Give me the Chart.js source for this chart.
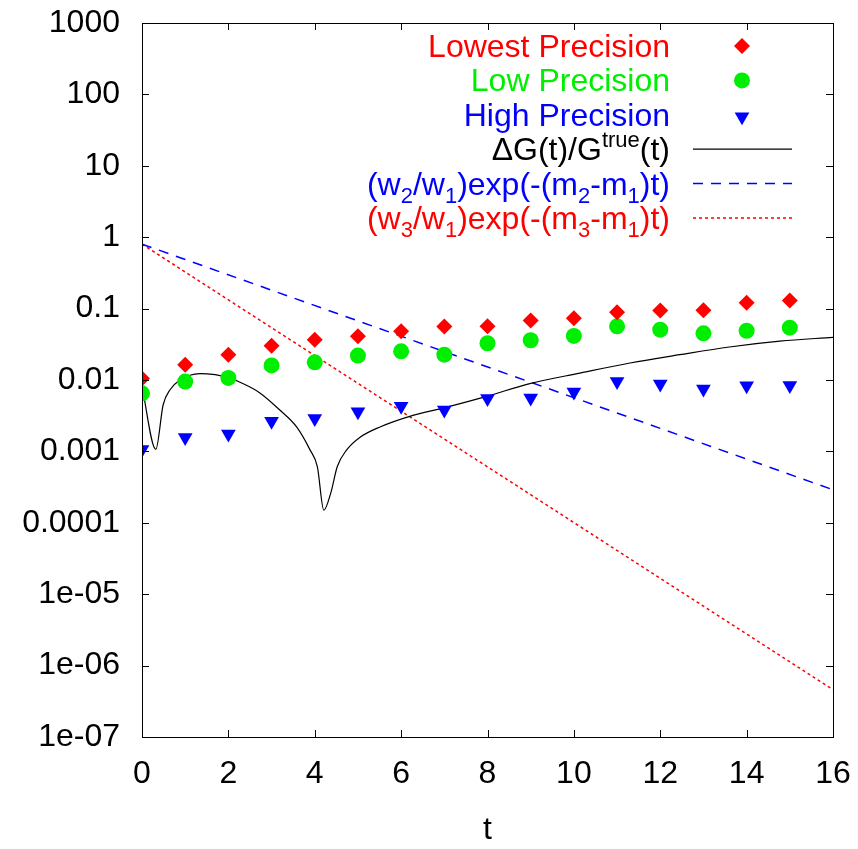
<!DOCTYPE html>
<html>
<head>
<meta charset="utf-8">
<script src="https://cdn.jsdelivr.net/npm/chart.js@4.4.1/dist/chart.umd.min.js"></script>
<style>
  html, body { margin: 0; padding: 0; background: #fff; }
</style>
</head>
<body>
<canvas id="chart" width="858" height="849"></canvas>
<script>
// data
const tPoints = [0, 1, 2, 3, 4, 5, 6, 7, 8, 9, 10, 11, 12, 13, 14, 15];
const lowestPrecision = [0.0105, 0.0164, 0.0226, 0.0303, 0.0367, 0.041, 0.048, 0.056, 0.0565, 0.068, 0.073, 0.089, 0.094, 0.095, 0.121, 0.13];
const lowPrecision = [0.0065, 0.0095, 0.0107, 0.016, 0.0177, 0.022, 0.0252, 0.0226, 0.0327, 0.036, 0.0414, 0.0565, 0.0507, 0.045, 0.049, 0.054];
const highPrecision = [0.00106, 0.00156, 0.00175, 0.00265, 0.0029, 0.0036, 0.0043, 0.0038, 0.0055, 0.0056, 0.0068, 0.0095, 0.0088, 0.0075, 0.0083, 0.0084];

const ratioT = [0, 0.32, 0.49, 0.65, 0.88, 1.34, 2.04, 2.27, 2.73, 3.19, 3.58, 3.89, 4.06, 4.21, 4.37, 4.52, 4.74, 5.05, 5.51, 6.2, 7.01, 7.98, 8.98, 10.14, 11.3, 12.45, 13.6, 14.77, 16];
const ratioVal = [0.0081, 0.00107, 0.0045, 0.0073, 0.010, 0.0123, 0.0107, 0.0093, 0.0066, 0.0038, 0.0022, 0.00105, 0.00061, 0.00015, 0.00026, 0.00061, 0.00105, 0.00158, 0.0022, 0.0031, 0.0041, 0.0059, 0.0089, 0.0125, 0.0173, 0.0226, 0.029, 0.035, 0.0396];

const expT = [0, 16];
const exp21 = [0.8, 0.00029];
const exp31 = [0.8, 4.6e-7];

const xTicks = [0, 2, 4, 6, 8, 10, 12, 14, 16];
const yTicks = [1000, 100, 10, 1, 0.1, 0.01, 0.001, 0.0001, 1e-5, 1e-6, 1e-7];
const yTickLabels = ['1000', '100', '10', '1', '0.1', '0.01', '0.001', '0.0001', '1e-05', '1e-06', '1e-07'];

const FONT = 'Liberation Sans, Arial, sans-serif';

function pts(xs, ys) {
  return xs.map((x, i) => ({ x: x, y: ys[i] }));
}

// legend rows: text pieces (normal / sub / sup), colour, dataset index
const legendRows = [
  { parts: [['Lowest Precision', 'n']], color: '#ff0000', ds: 0 },
  { parts: [['Low Precision', 'n']], color: '#00ee00', ds: 1 },
  { parts: [['High Precision', 'n']], color: '#0000ff', ds: 2 },
  { parts: [['\u0394G(t)/G', 'n'], ['true', 'sup'], ['(t)', 'n']], color: '#000000', ds: 3 },
  { parts: [['(w', 'n'], ['2', 'sub'], ['/w', 'n'], ['1', 'sub'], [')exp(-(m', 'n'], ['2', 'sub'], ['-m', 'n'], ['1', 'sub'], [')t)', 'n']], color: '#0000ff', ds: 4 },
  { parts: [['(w', 'n'], ['3', 'sub'], ['/w', 'n'], ['1', 'sub'], [')exp(-(m', 'n'], ['3', 'sub'], ['-m', 'n'], ['1', 'sub'], [')t)', 'n']], color: '#ff0000', ds: 5 }
];

const frame = {
  id: 'frame',
  afterDraw(chart) {
    const ctx = chart.ctx;
    const a = chart.chartArea;
    const xs = chart.scales.x, ys = chart.scales.y;
    const tl = 7;
    ctx.save();
    ctx.strokeStyle = '#000';
    ctx.lineWidth = 1;
    ctx.beginPath();
    xTicks.forEach(v => {
      const px = Math.round(xs.getPixelForValue(v)) + 0.5;
      ctx.moveTo(px, a.bottom); ctx.lineTo(px, a.bottom - tl);
      ctx.moveTo(px, a.top); ctx.lineTo(px, a.top + tl);
    });
    yTicks.forEach(v => {
      const py = Math.round(ys.getPixelForValue(v)) + 0.5;
      ctx.moveTo(a.left, py); ctx.lineTo(a.left + tl, py);
      ctx.moveTo(a.right, py); ctx.lineTo(a.right - tl, py);
    });
    ctx.stroke();
    ctx.strokeRect(Math.round(a.left) + 0.5, Math.round(a.top) + 0.5, Math.round(a.right - a.left), Math.round(a.bottom - a.top));

    // legend
    const textRight = 670;
    const markX = 742;
    const lineX0 = 693, lineX1 = 792;
    const rowY0 = 46, rowStep = 34.4;
    const big = 32, small = 22;
    legendRows.forEach((row, i) => {
      const y = rowY0 + i * rowStep;
      let w = 0;
      row.parts.forEach(p => {
        ctx.font = (p[1] === 'n' ? big : small) + 'px ' + FONT;
        w += ctx.measureText(p[0]).width;
      });
      let x = textRight - w;
      ctx.fillStyle = row.color;
      ctx.textAlign = 'left';
      ctx.textBaseline = 'alphabetic';
      const base = y + 11;
      row.parts.forEach(p => {
        let dy = 0;
        if (p[1] === 'sub') dy = 8;
        if (p[1] === 'sup') dy = -13;
        ctx.font = (p[1] === 'n' ? big : small) + 'px ' + FONT;
        ctx.fillText(p[0], x, base + dy);
        x += ctx.measureText(p[0]).width;
      });
      const ds = chart.data.datasets[row.ds];
      if (ds.showLine === false) {
        ctx.fillStyle = ds.backgroundColor;
        ctx.strokeStyle = ds.borderColor;
        Chart.helpers.drawPoint(ctx, {
          pointStyle: ds.pointStyle, radius: ds.pointRadius, rotation: ds.rotation || 0, borderWidth: 0
        }, markX, y + (ds.pointStyle === 'triangle' ? 2 : 0));
      } else {
        ctx.strokeStyle = ds.borderColor;
        ctx.lineWidth = ds.borderWidth;
        ctx.setLineDash(ds.borderDash || []);
        ctx.beginPath();
        ctx.moveTo(lineX0, y); ctx.lineTo(lineX1, y);
        ctx.stroke();
        ctx.setLineDash([]);
      }
    });
    ctx.restore();
  }
};

const ctx = document.getElementById('chart').getContext('2d');
const precisionChart = new Chart(ctx, {
  type: 'scatter',
  data: {
    datasets: [
      {
        label: 'Lowest Precision',
        data: pts(tPoints, lowestPrecision),
        showLine: false,
        pointStyle: 'rectRot',
        pointRadius: 8,
        backgroundColor: '#ff0000',
        borderColor: '#ff0000',
        borderWidth: 0
      },
      {
        label: 'Low Precision',
        data: pts(tPoints, lowPrecision),
        showLine: false,
        pointStyle: 'circle',
        pointRadius: 8,
        backgroundColor: '#00ee00',
        borderColor: '#00ee00',
        borderWidth: 0
      },
      {
        label: 'High Precision',
        data: pts(tPoints, highPrecision),
        showLine: false,
        pointStyle: 'triangle',
        rotation: 180,
        pointRadius: 8.5,
        backgroundColor: '#0000ff',
        borderColor: '#0000ff',
        borderWidth: 0
      },
      {
        label: 'dG/Gtrue',
        data: pts(ratioT, ratioVal),
        showLine: true,
        pointRadius: 0,
        borderColor: '#000000',
        borderWidth: 1.2,
        cubicInterpolationMode: 'monotone'
      },
      {
        label: 'w2/w1',
        data: pts(expT, exp21),
        showLine: true,
        pointRadius: 0,
        borderColor: '#0000ff',
        borderWidth: 1.5,
        borderDash: [10, 8]
      },
      {
        label: 'w3/w1',
        data: pts(expT, exp31),
        showLine: true,
        pointRadius: 0,
        borderColor: '#ff0000',
        borderWidth: 1.5,
        borderDash: [3, 3]
      }
    ]
  },
  options: {
    responsive: false,
    animation: false,
    devicePixelRatio: 1,
    layout: { padding: { top: 23, right: 25, left: 0, bottom: 0 } },
    plugins: {
      legend: { display: false },
      tooltip: { enabled: false }
    },
    scales: {
      x: {
        type: 'linear',
        min: 0,
        max: 16,
        afterBuildTicks: s => { s.ticks = xTicks.map(v => ({ value: v })); },
        afterFit: s => { s.height = 112; s.paddingLeft = 0; s.paddingRight = 0; },
        grid: { display: false, drawTicks: false },
        border: { display: false },
        ticks: { color: '#000', padding: 18, font: { family: FONT, size: 32 }, maxRotation: 0 },
        title: { display: true, text: 't', color: '#000', font: { family: FONT, size: 32 }, padding: { top: 0, bottom: 0 } }
      },
      y: {
        type: 'logarithmic',
        min: 1e-7,
        max: 1000,
        afterBuildTicks: s => { s.ticks = yTicks.map(v => ({ value: v })); },
        afterFit: s => { s.width = 142; s.paddingTop = 0; s.paddingBottom = 0; },
        grid: { display: false, drawTicks: false },
        border: { display: false },
        ticks: {
          color: '#000',
          padding: 22,
          font: { family: FONT, size: 32 },
          callback: (v) => yTickLabels[yTicks.indexOf(v)]
        }
      }
    }
  },
  plugins: [frame]
});
</script>
</body>
</html>
